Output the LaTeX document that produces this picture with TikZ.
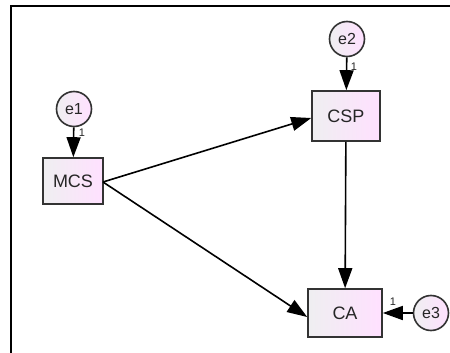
\documentclass[tikz,border=0pt]{standalone}
\usepackage{fontspec}
\setmainfont{Liberation Sans}
\usetikzlibrary{arrows.meta}
\begin{document}
\begin{tikzpicture}[x=1pt,y=-1pt,
  obs/.style={draw=black!80,line width=1.6pt,left color=blue!6!gray!12,right color=magenta!12,minimum width=#1,minimum height=48pt,inner sep=0pt,text=black!85,font=\fontsize{18}{18}\selectfont},
  err/.style={circle,draw=black!80,line width=1.6pt,left color=blue!6!gray!12,right color=magenta!12,minimum size=35pt,inner sep=0pt,text=black!85,font=\fontsize{16}{16}\selectfont},
  path/.style={line width=1.6pt,-{Triangle[length=20pt,width=14pt]}},
  one/.style={font=\fontsize{11}{11}\selectfont,inner sep=0pt,text=black!85}]
\useasboundingbox (0,0) rectangle (450,353);
\fill[white] (0,0) rectangle (450,353);
\draw[line width=2.3pt] (11,353) -- (11,6) -- (450,6);
\node[obs=60pt,minimum height=46pt] (mcs) at (73,181) {MCS};
\node[obs=68pt,minimum height=50pt] (csp) at (346,116) {CSP};
\node[obs=74pt,minimum height=48pt] (ca) at (345,313) {CA};
\node[err] (e1) at (74,109) {e1};
\node[err] (e2) at (347,39) {e2};
\node[err] (e3) at (431,313) {e3};
\draw[path] (e1) -- (mcs);
\draw[path] (e2) -- (csp);
\draw[path] (e3) -- (ca);
\coordinate (m1) at (103,182);
\draw[path] (m1) -- (csp.west |- 0,118);
\draw[path] (m1) -- (ca.west |- 0,317);
\draw[path] (csp) -- (ca);
\node[one] (l1) at (82,133) {1};
\node[one] (l2) at (354,67) {1};
\node[one] (l3) at (393,302) {1};
\end{tikzpicture}
\end{document}
